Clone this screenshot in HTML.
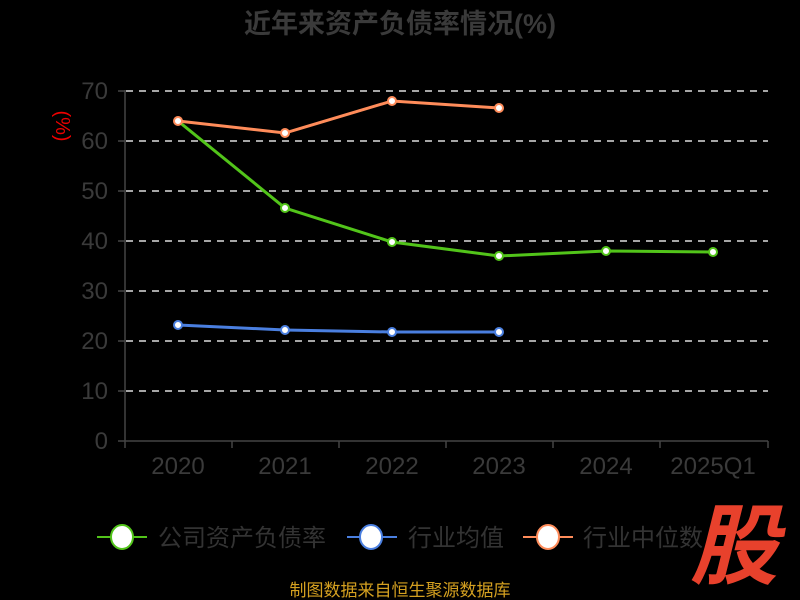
<!DOCTYPE html>
<html><head><meta charset="utf-8"><style>
html,body{margin:0;padding:0;background:#000;}
svg{display:block;font-family:"Liberation Sans","Noto Sans CJK SC",sans-serif;}
</style></head><body>
<svg width="800" height="600" viewBox="0 0 800 600">
<rect width="800" height="600" fill="#000"/>
<text x="400" y="33" text-anchor="middle" font-size="27" font-weight="bold" fill="#3a3a3a">近年来资产负债率情况(%)</text>
<g stroke="#ddd" stroke-width="1.5" stroke-dasharray="7,6">
<line x1="126" y1="91" x2="768" y2="91"/><line x1="126" y1="141" x2="768" y2="141"/>
<line x1="126" y1="191" x2="768" y2="191"/><line x1="126" y1="241" x2="768" y2="241"/>
<line x1="126" y1="291" x2="768" y2="291"/><line x1="126" y1="341" x2="768" y2="341"/>
<line x1="126" y1="391" x2="768" y2="391"/>
</g>
<g stroke="#444" stroke-width="1.5">
<line x1="125" y1="90" x2="125" y2="441"/><line x1="118" y1="441" x2="768" y2="441"/>
<line x1="118" y1="91" x2="125" y2="91"/><line x1="118" y1="141" x2="125" y2="141"/><line x1="118" y1="191" x2="125" y2="191"/><line x1="118" y1="241" x2="125" y2="241"/><line x1="118" y1="291" x2="125" y2="291"/><line x1="118" y1="341" x2="125" y2="341"/><line x1="118" y1="391" x2="125" y2="391"/>
<line x1="125" y1="441" x2="125" y2="448"/><line x1="232" y1="441" x2="232" y2="448"/><line x1="339" y1="441" x2="339" y2="448"/><line x1="446" y1="441" x2="446" y2="448"/><line x1="553" y1="441" x2="553" y2="448"/><line x1="660" y1="441" x2="660" y2="448"/><line x1="768" y1="441" x2="768" y2="448"/>
</g>
<g font-size="24" fill="#3a3a3a" text-anchor="end">
<text x="108" y="99">70</text><text x="108" y="149">60</text><text x="108" y="199">50</text><text x="108" y="249">40</text><text x="108" y="299">30</text><text x="108" y="349">20</text><text x="108" y="399">10</text><text x="108" y="449">0</text>
</g>
<g font-size="24" fill="#3a3a3a" text-anchor="middle">
<text x="178" y="474">2020</text><text x="285" y="474">2021</text><text x="392" y="474">2022</text><text x="499" y="474">2023</text><text x="606" y="474">2024</text><text x="713" y="474">2025Q1</text>
</g>
<text transform="translate(56,126) rotate(90)" font-size="20" fill="#e00" text-anchor="middle">(%)</text>
<polyline points="178,121 285,208 392,242 499,256 606,251 713,252" fill="none" stroke="#52c41a" stroke-width="3"/>
<polyline points="178,325 285,330 392,332 499,332" fill="none" stroke="#4a7fe0" stroke-width="3"/>
<polyline points="178,121 285,133 392,101 499,108" fill="none" stroke="#ff8c5a" stroke-width="3"/>
<g fill="#fff" stroke-width="2">
<g stroke="#52c41a"><circle cx="285" cy="208" r="4"/><circle cx="392" cy="242" r="4"/><circle cx="499" cy="256" r="4"/><circle cx="606" cy="251" r="4"/><circle cx="713" cy="252" r="4"/></g>
<g stroke="#4a7fe0"><circle cx="178" cy="325" r="4"/><circle cx="285" cy="330" r="4"/><circle cx="392" cy="332" r="4"/><circle cx="499" cy="332" r="4"/></g>
<g stroke="#ff8c5a"><circle cx="178" cy="121" r="4"/><circle cx="285" cy="133" r="4"/><circle cx="392" cy="101" r="4"/><circle cx="499" cy="108" r="4"/></g>
</g>
<g stroke-width="2">
<line x1="97" y1="537" x2="147" y2="537" stroke="#52c41a"/><ellipse cx="122" cy="537" rx="11" ry="12" fill="#fff" stroke="#52c41a"/>
<line x1="347" y1="537" x2="397" y2="537" stroke="#4a7fe0"/><ellipse cx="371" cy="537" rx="11" ry="12" fill="#fff" stroke="#4a7fe0"/>
<line x1="523" y1="537" x2="573" y2="537" stroke="#ff8c5a"/><ellipse cx="548" cy="537" rx="11" ry="12" fill="#fff" stroke="#ff8c5a"/>
</g>
<g font-size="24" fill="#333">
<text x="158" y="546">公司资产负债率</text><text x="408" y="546">行业均值</text><text x="583" y="546">行业中位数</text>
</g>
<text x="734" y="577" text-anchor="middle" font-size="88" font-weight="bold" fill="#e8412c" font-style="italic">股</text>
<text x="400" y="596" text-anchor="middle" font-size="17" fill="#d4a020">制图数据来自恒生聚源数据库</text>
</svg>
</body></html>
